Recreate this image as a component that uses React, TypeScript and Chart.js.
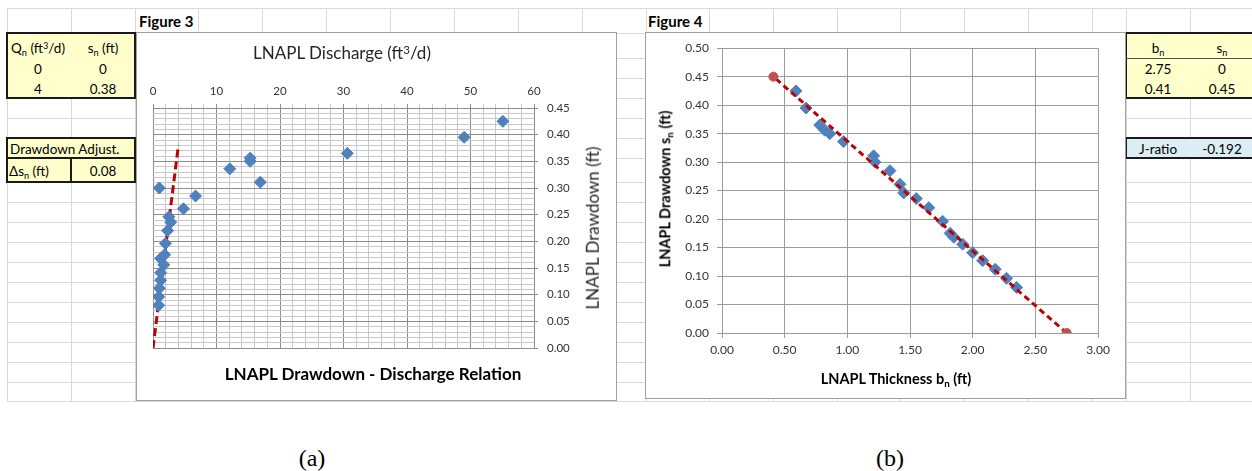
import React, { useEffect, useRef } from "react";
import { Chart, registerables } from "chart.js";

Chart.register(...registerables);

// ---------- Figure 3: LNAPL drawdown vs discharge ----------
const drawdownFt = [
  0.425, 0.395, 0.365, 0.356, 0.35, 0.336, 0.311, 0.3, 0.285, 0.261, 0.246,
  0.236, 0.22, 0.196, 0.175, 0.168, 0.156, 0.141, 0.127, 0.112, 0.096, 0.08,
];
const dischargeFt3d = [
  55.1, 49.0, 30.6, 15.3, 15.3, 12.1, 16.9, 1.0, 6.7, 4.8, 2.5, 2.8, 2.3, 1.95,
  1.85, 1.2, 1.7, 1.2, 1.2, 1.0, 0.9, 0.9,
];
// straight-line fit through the origin (Qn, sn)
const fitQ = [0, 4];
const fitS = [0, 0.38];
const drawdownAdjust = 0.08;

// ---------- Figure 4: LNAPL drawdown vs thickness ----------
const thicknessFt = [
  0.59, 0.67, 0.78, 0.82, 0.86, 0.97, 1.21, 1.22, 1.34, 1.42, 1.45, 1.55, 1.65,
  1.76, 1.82, 1.85, 1.92, 2.0, 2.08, 2.18, 2.27, 2.35,
];
const lineB = [2.75, 0.41];
const lineS = [0, 0.45];
const jRatio = "-0.192";

// axis ranges
const dischargeAxis = { min: 0, max: 60, major: 10, minor: 2 };
const drawdownAxis3 = { min: 0, max: 0.45, major: 0.05, minor: 0.01 };
const thicknessAxis = { min: 0, max: 3, step: 0.5 };
const drawdownAxis4 = { min: 0, max: 0.5, step: 0.05 };

// ---------- look ----------
const FONT = "Lato, 'Open Sans', sans-serif";
const SHEET_LINE = "#d9d9d9";
const ROWS = [8, 33, 58, 78, 98, 118, 138, 158, 182, 202, 222, 242, 262, 282, 302, 322, 342, 362, 382, 401];
const COLS = [7, 71, 135, 198, 262, 326, 390, 454, 518, 582, 646, 709, 773, 837, 900, 964, 1028, 1092, 1126, 1190];

const onStep = (v: number, step: number) =>
  Math.abs(v / step - Math.round(v / step)) < 1e-6;

type TxtProps = {
  x: number;
  y: number;
  size?: number;
  weight?: number;
  align?: "center" | "left";
  rotate?: number;
  color?: string;
  family?: string;
  children: React.ReactNode;
};

function Txt({ x, y, size = 13.5, weight = 400, align = "center", rotate = 0, color = "#000", family = FONT, children }: TxtProps) {
  const tx = align === "center" ? "-50%" : "0";
  return (
    <div
      style={{
        position: "absolute",
        left: x,
        top: y,
        transform: `translate(${tx}, -50%) rotate(${rotate}deg)`,
        fontFamily: family,
        fontSize: size,
        fontWeight: weight,
        color,
        whiteSpace: "nowrap",
        lineHeight: 1.2,
      }}
    >
      {children}
    </div>
  );
}

const Sub = ({ children }: { children: React.ReactNode }) => (
  <span style={{ fontSize: "0.68em", position: "relative", top: "0.3em" }}>{children}</span>
);
const Sup = ({ children }: { children: React.ReactNode }) => (
  <span style={{ fontSize: "0.68em", position: "relative", top: "-0.45em" }}>{children}</span>
);

function Box({ l, t, w, h, bg, border }: { l: number; t: number; w: number; h: number; bg?: string; border?: string }) {
  return (
    <div
      style={{
        position: "absolute",
        left: l,
        top: t,
        width: w,
        height: h,
        background: bg || "transparent",
        border: border || "none",
        boxSizing: "border-box",
      }}
    />
  );
}

function SheetGrid() {
  return (
    <>
      {ROWS.map((y) => (
        <div key={"r" + y} style={{ position: "absolute", left: 7, top: y, width: 1245, height: 1, background: SHEET_LINE }} />
      ))}
      {COLS.map((x) => (
        <div key={"c" + x} style={{ position: "absolute", left: x, top: 8, width: 1, height: 393, background: SHEET_LINE }} />
      ))}
    </>
  );
}

function DischargeChart() {
  const ref = useRef<HTMLCanvasElement>(null);
  useEffect(() => {
    const MAJOR = "#8c8c8c";
    const MINOR = "#c8c8c8";
    const chart = new Chart(ref.current!, {
      type: "scatter",
      data: {
        datasets: [
          {
            data: dischargeFt3d.map((q, i) => ({ x: q, y: drawdownFt[i] })),
            pointStyle: "rectRot",
            pointRadius: 6,
            backgroundColor: "#4f81bd",
            borderColor: "#4f81bd",
            borderWidth: 1,
          },
          {
            data: fitQ.map((q, i) => ({ x: q, y: fitS[i] })),
            showLine: true,
            borderColor: "#c00000",
            borderWidth: 3,
            borderDash: [8, 4],
            pointRadius: 0,
          },
        ],
      },
      options: {
        responsive: false,
        animation: false,
        events: [],
        layout: { padding: { left: 16, right: 0, top: 0, bottom: 52 } },
        plugins: { legend: { display: false }, tooltip: { enabled: false } },
        scales: {
          x: {
            type: "linear",
            position: "top",
            min: dischargeAxis.min,
            max: dischargeAxis.max,
            afterFit: (s: any) => {
              s.height = 75;
            },
            ticks: {
              stepSize: dischargeAxis.minor,
              autoSkip: false,
              maxRotation: 0,
              padding: 6,
              color: "#333",
              font: { family: FONT, size: 11.5 },
              callback: (v: any) => (onStep(Number(v), dischargeAxis.major) ? String(v) : ""),
            },
            grid: {
              color: (c: any) => (c.tick && onStep(c.tick.value, dischargeAxis.major) ? MAJOR : MINOR),
              tickColor: (c: any) => (c.tick && onStep(c.tick.value, dischargeAxis.major) ? MAJOR : MINOR),
              tickLength: 4,
            },
            border: { color: MAJOR },
          },
          y: {
            type: "linear",
            position: "right",
            min: drawdownAxis3.min,
            max: drawdownAxis3.max,
            afterFit: (s: any) => {
              s.width = 82;
            },
            ticks: {
              stepSize: drawdownAxis3.minor,
              autoSkip: false,
              padding: 9,
              color: "#333",
              font: { family: FONT, size: 11.5 },
              callback: (v: any) => (onStep(Number(v), drawdownAxis3.major) ? Number(v).toFixed(2) : ""),
            },
            grid: {
              color: (c: any) => (c.tick && onStep(c.tick.value, drawdownAxis3.major) ? MAJOR : MINOR),
              tickColor: (c: any) => (c.tick && onStep(c.tick.value, drawdownAxis3.major) ? MAJOR : "rgba(0,0,0,0)"),
              tickLength: 4,
            },
            border: { color: MAJOR },
          },
        },
      },
    } as any);
    return () => chart.destroy();
  }, []);
  return <canvas ref={ref} width={479} height={367} style={{ position: "absolute", left: 0, top: 0 }} />;
}

function ThicknessChart() {
  const ref = useRef<HTMLCanvasElement>(null);
  useEffect(() => {
    const GRID = "#9c9c9c";
    const chart = new Chart(ref.current!, {
      type: "scatter",
      data: {
        datasets: [
          {
            data: lineB.map((b, i) => ({ x: b, y: lineS[i] })),
            showLine: true,
            borderColor: "#c00000",
            borderWidth: 3,
            borderDash: [6, 4],
            pointRadius: 4.5,
            pointStyle: "circle",
            pointBackgroundColor: "#c0504d",
            pointBorderColor: "#c0504d",
            pointBorderWidth: 1,
          },
          {
            data: thicknessFt.map((b, i) => ({ x: b, y: drawdownFt[i] })),
            pointStyle: "rectRot",
            pointRadius: 6,
            backgroundColor: "#4f81bd",
            borderColor: "#4f81bd",
            borderWidth: 1,
          },
        ],
      },
      options: {
        responsive: false,
        animation: false,
        events: [],
        layout: { padding: { left: 0, right: 27, top: 15, bottom: 0 } },
        plugins: { legend: { display: false }, tooltip: { enabled: false } },
        scales: {
          x: {
            type: "linear",
            position: "bottom",
            min: thicknessAxis.min,
            max: thicknessAxis.max,
            afterFit: (s: any) => {
              s.height = 65;
            },
            ticks: {
              stepSize: thicknessAxis.step,
              autoSkip: false,
              maxRotation: 0,
              padding: 5,
              color: "#333",
              font: { family: FONT, size: 12 },
              callback: (v: any) => Number(v).toFixed(2),
            },
            grid: { color: GRID, tickColor: GRID, tickLength: 5 },
            border: { color: GRID },
          },
          y: {
            type: "linear",
            position: "left",
            min: drawdownAxis4.min,
            max: drawdownAxis4.max,
            afterFit: (s: any) => {
              s.width = 76;
            },
            ticks: {
              stepSize: drawdownAxis4.step,
              autoSkip: false,
              padding: 8,
              color: "#333",
              font: { family: FONT, size: 12 },
              callback: (v: any) => Number(v).toFixed(2),
            },
            grid: { color: GRID, tickColor: GRID, tickLength: 5 },
            border: { color: GRID },
          },
        },
      },
    } as any);
    return () => chart.destroy();
  }, []);
  return <canvas ref={ref} width={479} height={365} style={{ position: "absolute", left: 0, top: 0 }} />;
}

export default function App() {
  const tableBorder = "2px solid #1a1a1a";
  return (
    <div
      style={{
        position: "absolute",
        left: 0,
        top: 0,
        width: 1252,
        height: 471,
        overflow: "hidden",
        background: "#fff",
        fontFamily: FONT,
      }}
    >
      <SheetGrid />

      {/* Qn / sn input table */}
      <Box l={6} t={32} w={130} h={67} bg="#ffffcc" border={tableBorder} />
      <Txt x={38} y={48}>
        Q<Sub>n</Sub> (ft<Sup>3</Sup>/d)
      </Txt>
      <Txt x={103} y={48}>
        s<Sub>n</Sub> (ft)
      </Txt>
      <Txt x={38} y={69}>{String(fitQ[0])}</Txt>
      <Txt x={103} y={69}>{String(fitS[0])}</Txt>
      <Txt x={38} y={89}>{String(fitQ[1])}</Txt>
      <Txt x={103} y={89}>{String(fitS[1])}</Txt>

      {/* drawdown adjustment */}
      <Box l={6} t={137} w={130} h={46} bg="#ffffcc" border={tableBorder} />
      <div style={{ position: "absolute", left: 6, top: 157, width: 130, height: 2, background: "#1a1a1a" }} />
      <Box l={70} t={157} w={66} h={26} border={tableBorder} />
      <Txt x={10} y={149} align="left">
        Drawdown Adjust.
      </Txt>
      <Txt x={9} y={171} align="left">
        Δs<Sub>n</Sub> (ft)
      </Txt>
      <Txt x={103} y={171}>{drawdownAdjust.toFixed(2)}</Txt>

      {/* bn / sn table */}
      <Box l={1125} t={32} w={140} h={67} bg="#ffffcc" border={tableBorder} />
      <div style={{ position: "absolute", left: 1126, top: 58, width: 130, height: 1, background: "#555" }} />
      <Txt x={1158} y={48}>
        b<Sub>n</Sub>
      </Txt>
      <Txt x={1222} y={48}>
        s<Sub>n</Sub>
      </Txt>
      <Txt x={1158} y={69}>{String(lineB[0])}</Txt>
      <Txt x={1222} y={69}>{String(lineS[0])}</Txt>
      <Txt x={1158} y={89}>{String(lineB[1])}</Txt>
      <Txt x={1222} y={89}>{String(lineS[1])}</Txt>

      {/* J-ratio */}
      <Box l={1125} t={137} w={140} h={22} bg="#daeef3" border={tableBorder} />
      <Txt x={1158} y={149}>J-ratio</Txt>
      <Txt x={1222} y={149}>{jRatio}</Txt>

      {/* figure captions in sheet */}
      <Txt x={139} y={21} align="left" size={15} weight={700}>
        Figure 3
      </Txt>
      <Txt x={648} y={21} align="left" size={15} weight={700}>
        Figure 4
      </Txt>

      {/* Figure 3 chart */}
      <div
        style={{
          position: "absolute",
          left: 136,
          top: 32,
          width: 481,
          height: 369,
          border: "1px solid #a0a0a0",
          boxSizing: "border-box",
          background: "#fff",
        }}
      >
        <DischargeChart />
      </div>
      <Txt x={342} y={53} size={17} color="#262626">
        LNAPL Discharge (ft<Sup>3</Sup>/d)
      </Txt>
      <Txt x={593} y={228} size={17} rotate={-90} color="#262626">
        LNAPL Drawdown (ft)
      </Txt>
      <Txt x={373} y={374} size={17} weight={700}>
        LNAPL Drawdown - Discharge Relation
      </Txt>

      {/* Figure 4 chart */}
      <div
        style={{
          position: "absolute",
          left: 645,
          top: 32,
          width: 481,
          height: 367,
          border: "1px solid #a0a0a0",
          boxSizing: "border-box",
          background: "#fff",
        }}
      >
        <ThicknessChart />
      </div>
      <Txt x={896} y={379} size={14.5} weight={700}>
        LNAPL Thickness b<Sub>n</Sub> (ft)
      </Txt>
      <Txt x={665} y={189} size={14.5} weight={700} rotate={-90}>
        LNAPL Drawdown s<Sub>n</Sub> (ft)
      </Txt>

      {/* panel labels */}
      <Txt x={312} y={458} size={24} family="'Liberation Serif', 'Times New Roman', serif">
        (a)
      </Txt>
      <Txt x={890} y={458} size={24} family="'Liberation Serif', 'Times New Roman', serif">
        (b)
      </Txt>
    </div>
  );
}
